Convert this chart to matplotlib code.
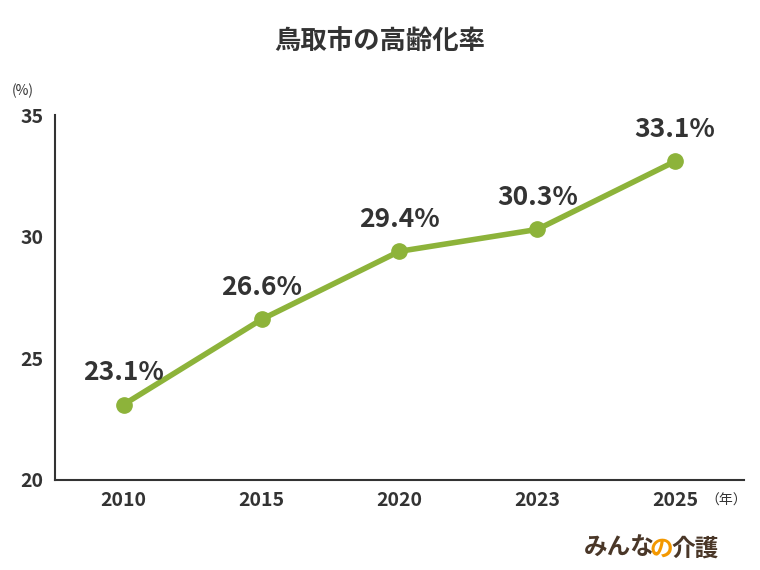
import matplotlib
matplotlib.use("Agg")
import matplotlib.pyplot as plt

plt.rcParams['font.family'] = ['Noto Sans CJK JP', 'DejaVu Sans']

years = ["2010", "2015", "2020", "2023", "2025"]
rates = [23.1, 26.6, 29.4, 30.3, 33.1]
yticks = [20, 25, 30, 35]

green = "#8db33a"
dark = "#333333"

fig = plt.figure(figsize=(7.6, 5.7), dpi=100)
ax = fig.add_axes([0.072, 0.158, 0.907, 0.64])

xs = list(range(len(years)))
ax.plot(xs, rates, color=green, lw=4, marker="o", ms=11, zorder=3)
for x, v in zip(xs, rates):
    ax.annotate(f"{v}%", (x, v), xytext=(0, 13), textcoords="offset points",
                ha="center", va="bottom", fontsize=19, fontweight="bold", color=dark)

ax.set_xlim(-0.5, 4.5)
ax.set_ylim(20, 35)
ax.set_xticks(xs, years)
ax.set_yticks(yticks)
ax.tick_params(length=0, labelsize=14, colors=dark, pad=8)
for lab in ax.get_xticklabels() + ax.get_yticklabels():
    lab.set_fontweight("bold")
for s in ["top", "right"]:
    ax.spines[s].set_visible(False)
for s in ["left", "bottom"]:
    ax.spines[s].set_color(dark)
    ax.spines[s].set_linewidth(1.5)

fig.text(0.5, 0.928, "鳥取市の高齢化率", ha="center", va="center",
         fontsize=19, fontweight="bold", color=dark)
fig.text(0.03, 0.84, "(%)", ha="center", va="center", fontsize=10, color=dark)
fig.text(0.955, 0.122, "（年）", ha="center", va="center", fontsize=10, color=dark)

fig.text(0.768, 0.038, "みんな", ha="left", va="center", fontsize=17,
         fontweight="bold", color="#4a3728")
fig.text(0.855, 0.038, "の", ha="left", va="center", fontsize=17,
         fontweight="bold", color="#f39800")
fig.text(0.884, 0.038, "介護", ha="left", va="center", fontsize=17,
         fontweight="bold", color="#4a3728")

fig.savefig("out.png", dpi=100)
